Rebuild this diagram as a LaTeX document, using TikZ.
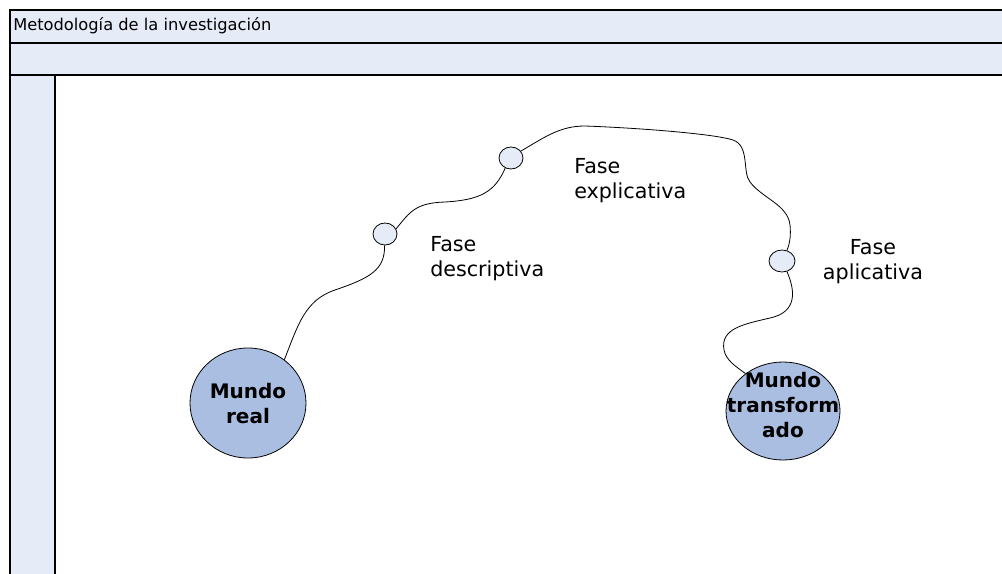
\documentclass[tikz,border=0pt]{standalone}
\usepackage{fontspec}
\setmainfont{DejaVu Sans}
\usetikzlibrary{shapes.geometric}
\definecolor{bandblue}{RGB}{230,236,247}
\definecolor{worldblue}{RGB}{169,190,225}
\tikzset{
  band/.style={fill=bandblue},
  world/.style={ellipse, draw, line width=0.6pt, fill=worldblue, inner sep=0pt},
  worldtext/.style={align=center, inner sep=0pt, font=\bfseries\fontsize{15}{18.75}\selectfont},
  phase/.style={ellipse, draw, line width=0.6pt, fill=bandblue, inner sep=0pt, minimum width=18pt, minimum height=16.5pt},
  phasetext/.style={inner sep=0pt, font=\fontsize{15.5}{18.75}\selectfont},
  road/.style={draw, line width=0.6pt}
}

\begin{document}
\begin{tikzpicture}[x=0.75pt, y=-0.75pt]
\useasboundingbox (0,0) rectangle (1002,574);
% frame
\fill[band] (10,10) rectangle (1002,75);
\fill[band] (10,75) rectangle (55,574);
\draw[line width=0.8pt] (1002,10) -- (10,10) -- (10,574);
\draw[line width=0.8pt] (10,43) -- (1002,43);
\draw[line width=1.5pt] (10,75) -- (1002,75);
\draw[line width=1.2pt] (55,75) -- (55,574);
\node[anchor=west, inner sep=0pt, font=\fontsize{12.2}{14}\selectfont] (title) at (13,26) {Metodología de la investigación};

% worlds
\node[world, minimum width=87pt, minimum height=82.5pt] (real) at (248,403) {};
\node[worldtext] (realtext) at (248,404) {Mundo\\real};
\node[world, minimum width=85.5pt, minimum height=73.5pt] (trans) at (783,411) {};
\node[worldtext] (transtext) at (783,405) {Mundo\\transform\\ado};

% phases
\node[phase] (d) at (385,234) {};
\node[phase] (e) at (511,158) {};
\node[phase, minimum width=19.5pt] (a) at (782,261) {};
\node[phasetext, anchor=west, align=left] (dtext) at (430,259) {Fase\\descriptiva};
\node[phasetext, anchor=west, align=left] (etext) at (574,181) {Fase\\explicativa};
\node[phasetext, align=center] (atext) at (873,262) {Fase\\aplicativa};

% roads
\draw[road] (real.50) .. controls (298,325) and (305,300) .. (335,290)
  .. controls (370,278) and (385,270) .. (d.-92);
\draw[road] (d.25) .. controls (410,212) and (415,203) .. (445,202)
  .. controls (480,200) and (495,192) .. (e.-120);
\draw[road] (e.35) .. controls (545,137) and (560,126) .. (585,126)
  .. controls (640,128) and (715,134) .. (733,140)
  .. controls (750,146) and (742,172) .. (750,182)
  .. controls (762,198) and (788,205) .. (790,225)
  .. controls (791,235) and (790,243) .. (a.65);
\draw[road] (a.-65) .. controls (795,290) and (798,312) .. (770,318)
  .. controls (745,324) and (720,328) .. (724,350)
  .. controls (726,360) and (735,366) .. (trans.135);
\end{tikzpicture}
\end{document}
